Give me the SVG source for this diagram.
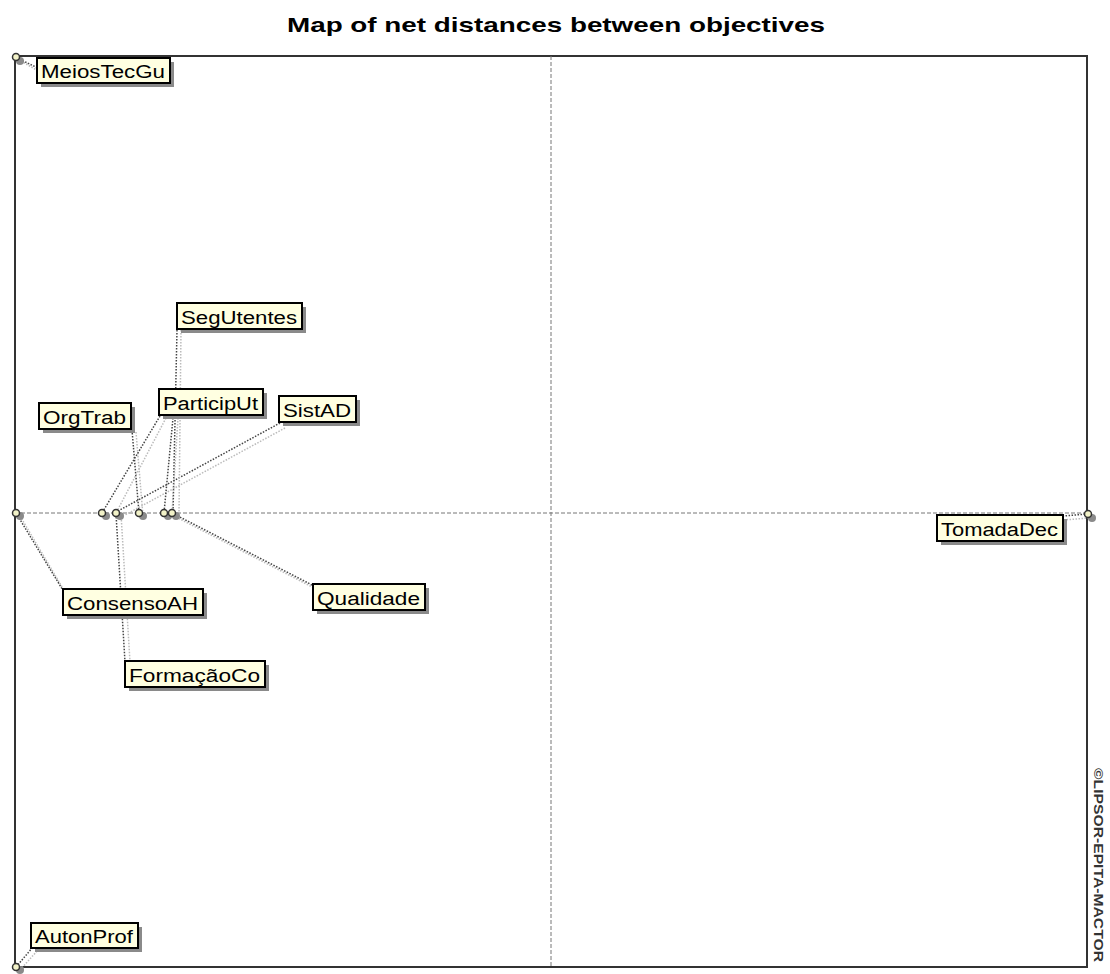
<svg xmlns="http://www.w3.org/2000/svg" width="1110" height="974" viewBox="0 0 1110 974">
<defs>
<style>
.title{font-family:"Liberation Sans",Arial,sans-serif;font-weight:bold;font-size:21px;fill:#000}
.lbl{font-family:"Liberation Sans",Arial,sans-serif;font-size:18px;fill:#000}
.box{fill:#FFFFE1;stroke:#000;stroke-width:2}
.bsh{fill:#8a8a8a}
.pt{fill:#F2F2C8;stroke:#333;stroke-width:1.5}
.psh{fill:#8a8a8a}
.frame{fill:none;stroke:#333;stroke-width:2}
.axis{fill:none;stroke:#777;stroke-width:1;stroke-dasharray:4 2}
.ln{fill:none;stroke:#444;stroke-width:1.5;stroke-dasharray:1.5 1.5}
.lsh{fill:none;stroke:#bbb;stroke-width:1.5;stroke-dasharray:1.5 1.5}
.copy{font-family:"Liberation Sans",Arial,sans-serif;font-weight:bold;font-size:12px;fill:#333}
</style>
</defs>
<rect width="1110" height="974" fill="#fff"/>
<text class="title" x="287" y="32" textLength="538" lengthAdjust="spacingAndGlyphs">Map of net distances between objectives</text>
<rect class="frame" x="15" y="56" width="1072" height="911"/>
<line class="axis" x1="15" y1="513" x2="1087" y2="513"/>
<line class="axis" x1="551" y1="56" x2="551" y2="967"/>
<text class="copy" transform="translate(1094,768) rotate(90)" textLength="194" lengthAdjust="spacingAndGlyphs">©LIPSOR-EPITA-MACTOR</text>

<g id="connectors">
<line class="lsh" x1="21" y1="61" x2="40" y2="72"/><line class="ln" x1="17" y1="58" x2="38" y2="68"/>
<line class="lsh" x1="136" y1="432" x2="143" y2="516"/><line class="ln" x1="132" y1="430" x2="139" y2="513"/>
<line class="lsh" x1="166" y1="418" x2="116" y2="513"/><line class="ln" x1="160" y1="416" x2="102" y2="513"/>
<line class="lsh" x1="285" y1="428" x2="125" y2="515"/><line class="ln" x1="280" y1="423" x2="118" y2="511"/>
<line class="lsh" x1="181" y1="330" x2="179" y2="513"/><line class="ln" x1="177" y1="330" x2="173" y2="513"/>
<line class="lsh" x1="178" y1="418" x2="172" y2="513"/><line class="ln" x1="173" y1="418" x2="164" y2="513"/>
<line class="lsh" x1="20" y1="516" x2="68" y2="597"/><line class="ln" x1="16" y1="513" x2="64" y2="592"/>
<line class="lsh" x1="121" y1="514" x2="130" y2="662"/><line class="ln" x1="116" y1="514" x2="125" y2="662"/>
<line class="lsh" x1="176" y1="517" x2="318" y2="590"/><line class="ln" x1="172" y1="513" x2="314" y2="586"/>
<line class="lsh" x1="1089" y1="518" x2="1063" y2="520"/><line class="ln" x1="1088" y1="514" x2="1063" y2="516"/>
<line class="lsh" x1="20" y1="970" x2="38" y2="950"/><line class="ln" x1="16" y1="967" x2="33" y2="947"/>
</g>

<g id="points">
<circle class="psh" cx="20" cy="61" r="4"/><circle class="pt" cx="16" cy="57" r="3.5"/>
<circle class="psh" cx="20" cy="516" r="4"/><circle class="pt" cx="16" cy="513" r="3.5"/>
<circle class="psh" cx="20" cy="970" r="4"/><circle class="pt" cx="16" cy="967" r="3.5"/>
<circle class="psh" cx="1092" cy="518" r="4"/><circle class="pt" cx="1088" cy="514" r="3.5"/>
<circle class="psh" cx="106" cy="516" r="4"/><circle class="pt" cx="102" cy="513" r="3.5"/>
<circle class="psh" cx="120" cy="516" r="4"/><circle class="pt" cx="116" cy="513" r="3.5"/>
<circle class="psh" cx="143" cy="516" r="4"/><circle class="pt" cx="139" cy="513" r="3.5"/>
<circle class="psh" cx="168" cy="516" r="4"/><circle class="pt" cx="164" cy="513" r="3.5"/>
<circle class="psh" cx="176" cy="516" r="4"/><circle class="pt" cx="172" cy="513" r="3.5"/>
</g>

<g id="MeiosTecGu"><rect class="bsh" x="41" y="62" width="133" height="25"/><rect class="box" x="37" y="58" width="133" height="25"/><text class="lbl" x="41" y="78" textLength="124" lengthAdjust="spacingAndGlyphs">MeiosTecGu</text></g>
<g id="SegUtentes"><rect class="bsh" x="181" y="307" width="125" height="26"/><rect class="box" x="177" y="303" width="125" height="26"/><text class="lbl" x="181" y="324" textLength="116" lengthAdjust="spacingAndGlyphs">SegUtentes</text></g>
<g id="OrgTrab"><rect class="bsh" x="43" y="407" width="92" height="26"/><rect class="box" x="39" y="403" width="92" height="26"/><text class="lbl" x="43" y="424" textLength="83" lengthAdjust="spacingAndGlyphs">OrgTrab</text></g>
<g id="ParticipUt"><rect class="bsh" x="163" y="393" width="104" height="26"/><rect class="box" x="159" y="389" width="104" height="26"/><text class="lbl" x="163" y="410" textLength="95" lengthAdjust="spacingAndGlyphs">ParticipUt</text></g>
<g id="SistAD"><rect class="bsh" x="283" y="400" width="77" height="26"/><rect class="box" x="279" y="396" width="77" height="26"/><text class="lbl" x="283" y="417" textLength="68" lengthAdjust="spacingAndGlyphs">SistAD</text></g>
<g id="TomadaDec"><rect class="bsh" x="941" y="519" width="126" height="26"/><rect class="box" x="937" y="515" width="126" height="26"/><text class="lbl" x="941" y="536" textLength="117" lengthAdjust="spacingAndGlyphs">TomadaDec</text></g>
<g id="ConsensoAH"><rect class="bsh" x="67" y="593" width="140" height="26"/><rect class="box" x="63" y="589" width="140" height="26"/><text class="lbl" x="67" y="610" textLength="131" lengthAdjust="spacingAndGlyphs">ConsensoAH</text></g>
<g id="Qualidade"><rect class="bsh" x="317" y="588" width="112" height="26"/><rect class="box" x="313" y="584" width="112" height="26"/><text class="lbl" x="317" y="605" textLength="103" lengthAdjust="spacingAndGlyphs">Qualidade</text></g>
<g id="FormacaoCo"><rect class="bsh" x="129" y="665" width="140" height="26"/><rect class="box" x="125" y="661" width="140" height="26"/><text class="lbl" x="129" y="682" textLength="131" lengthAdjust="spacingAndGlyphs">FormaçãoCo</text></g>
<g id="AutonProf"><rect class="bsh" x="35" y="927" width="107" height="25"/><rect class="box" x="31" y="923" width="107" height="25"/><text class="lbl" x="35" y="943" textLength="98" lengthAdjust="spacingAndGlyphs">AutonProf</text></g>
</svg>
